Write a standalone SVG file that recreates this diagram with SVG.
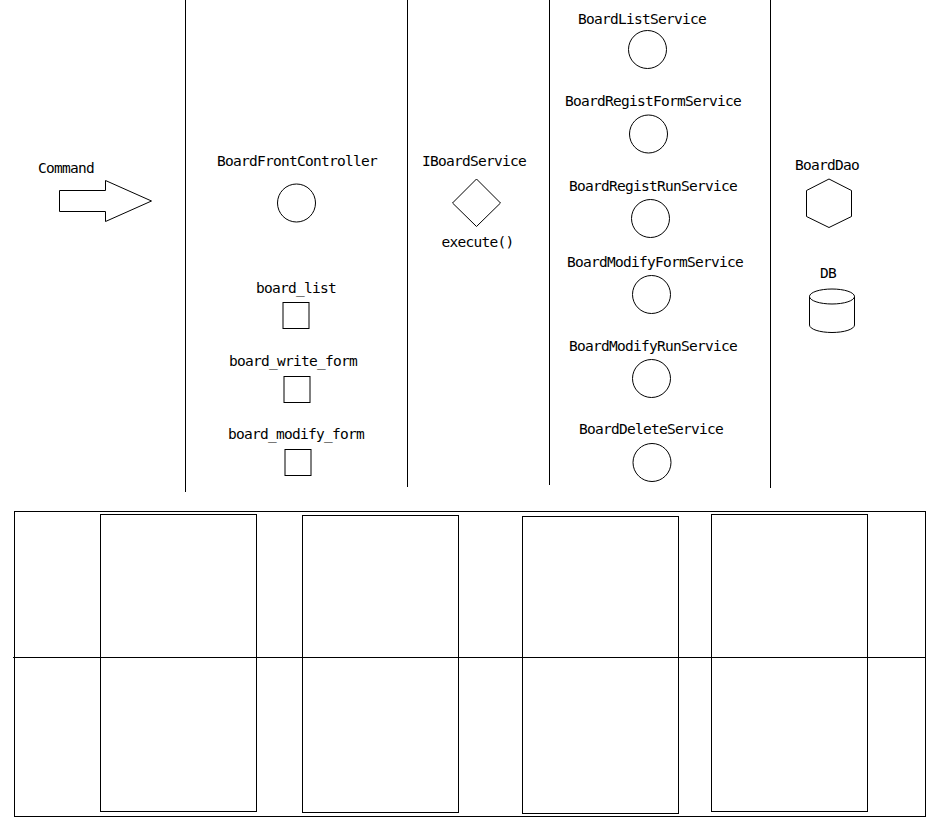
<svg xmlns="http://www.w3.org/2000/svg" width="948" height="834" viewBox="0 0 948 834">
<style>
text{font-family:"DejaVu Sans Mono","Liberation Mono",monospace;font-size:14.5px;letter-spacing:-0.73px;fill:#000;text-anchor:middle}
.s{fill:#fff;stroke:#000;stroke-width:1}
.l{stroke:#000;stroke-width:1;fill:none}
</style>
<rect width="948" height="834" fill="#fff"/>
<g id="lanes">
<line class="l" x1="185.5" y1="0" x2="185.5" y2="492"/>
<line class="l" x1="407.5" y1="0" x2="407.5" y2="487"/>
<line class="l" x1="549.5" y1="0" x2="549.5" y2="485"/>
<line class="l" x1="770.5" y1="0" x2="770.5" y2="488"/>
</g>
<g id="command">
<text x="66" y="172.5">Command</text>
<polygon class="s" points="59.5,190.5 105.5,190.5 105.5,180.5 151.5,201 105.5,221.5 105.5,211.5 59.5,211.5"/>
</g>
<g id="BoardFrontController">
<text x="297" y="165.5">BoardFrontController</text>
<circle class="s" cx="296.5" cy="203" r="19"/>
</g>
<g id="board_list">
<text x="296" y="293">board_list</text>
<rect class="s" x="283" y="302.5" width="26" height="26"/>
</g>
<g id="board_write_form">
<text x="293" y="366">board_write_form</text>
<rect class="s" x="284" y="376.5" width="26" height="26"/>
</g>
<g id="board_modify_form">
<text x="296" y="439">board_modify_form</text>
<rect class="s" x="285" y="449.5" width="26" height="26"/>
</g>
<g id="IBoardService">
<text x="474" y="165.5">IBoardService</text>
<polygon class="s" points="476.5,179 500.5,203 476.5,226.5 452.5,203"/>
<text x="477.5" y="247">execute()</text>
</g>
<g id="BoardListService">
<text x="642" y="23.5">BoardListService</text>
<circle class="s" cx="647.5" cy="49.5" r="19"/>
</g>
<g id="BoardRegistFormService">
<text x="653" y="105.5">BoardRegistFormService</text>
<circle class="s" cx="648.5" cy="134" r="19"/>
</g>
<g id="BoardRegistRunService">
<text x="653" y="190.5">BoardRegistRunService</text>
<circle class="s" cx="650.5" cy="218.5" r="19"/>
</g>
<g id="BoardModifyFormService">
<text x="655" y="266.5">BoardModifyFormService</text>
<circle class="s" cx="651.5" cy="294.5" r="19"/>
</g>
<g id="BoardModifyRunService">
<text x="653" y="350.5">BoardModifyRunService</text>
<circle class="s" cx="651.5" cy="378.5" r="19"/>
</g>
<g id="BoardDeleteService">
<text x="651" y="434">BoardDeleteService</text>
<circle class="s" cx="652" cy="462.5" r="19"/>
</g>
<g id="BoardDao">
<text x="827" y="170">BoardDao</text>
<polygon class="s" points="829,179 851.5,190.5 851.5,216.5 829,227.5 806.5,216.5 806.5,190.5"/>
</g>
<g id="DB">
<text x="828" y="278">DB</text>
<path class="s" d="M809.5,296.5 L809.5,325 A22.5,7.5 0 0 0 854.5,325 L854.5,296.5 A22.5,7.5 0 0 0 809.5,296.5 Z"/>
<path class="l" d="M809.5,296.5 A22.5,7.5 0 0 0 854.5,296.5"/>
</g>
<g id="frame">
<rect class="l" x="14.5" y="511.5" width="911" height="305"/>
<rect class="l" x="100.5" y="514.5" width="156" height="297"/>
<rect class="l" x="302.5" y="515.5" width="156" height="297"/>
<rect class="l" x="522.5" y="516.5" width="156" height="297"/>
<rect class="l" x="711.5" y="514.5" width="156" height="297"/>
<line class="l" x1="13" y1="657.5" x2="926" y2="657.5"/>
</g>
</svg>
